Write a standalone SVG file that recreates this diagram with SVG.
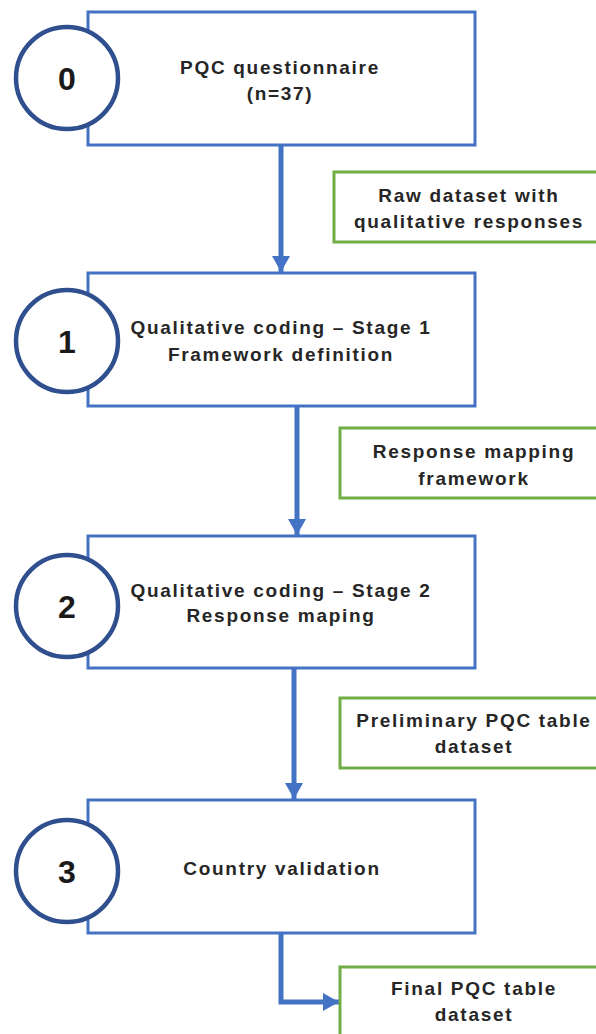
<svg xmlns="http://www.w3.org/2000/svg" width="596" height="1034" viewBox="0 0 596 1034">
<defs>
<style>
.box{fill:#fff;stroke:#4472C4;stroke-width:3}
.out{fill:#fff;stroke:#70AD47;stroke-width:3}
.num{fill:#fff;stroke:#2F4F8F;stroke-width:4.5}
.t{font-family:"Liberation Sans",Arial,sans-serif;font-weight:bold;font-size:19px;letter-spacing:1.7px;fill:#262626;text-anchor:middle}
.n{font-family:"Liberation Sans",Arial,sans-serif;font-weight:bold;font-size:32px;fill:#1a1a1a;text-anchor:middle}
.c{fill:none;stroke:#4472C4;stroke-width:5}
</style>
<marker id="ah" markerUnits="userSpaceOnUse" markerWidth="16" markerHeight="18" viewBox="0 0 16 18" refX="16" refY="9" orient="auto">
<path d="M0,0 L16,9 L0,18 Z" fill="#4472C4"/>
</marker>
</defs>
<g id="connectors">
<path class="c" d="M281,145 V272" marker-end="url(#ah)"/>
<path class="c" d="M297,406 V535" marker-end="url(#ah)"/>
<path class="c" d="M294,668 V799" marker-end="url(#ah)"/>
<path class="c" d="M281,933 V1002 H339" marker-end="url(#ah)"/>
</g>
<g id="step0">
<rect class="box" x="88" y="12" width="387" height="133"/>
<circle class="num" cx="67" cy="78" r="51"/>
<text class="n" x="67" y="90">0</text>
<text class="t" x="280" y="74">PQC questionnaire</text>
<text class="t" x="280" y="100">(n=37)</text>
</g>
<g id="out0">
<rect class="out" x="334" y="172" width="264" height="70"/>
<text class="t" x="469" y="202">Raw dataset with</text>
<text class="t" x="469" y="228">qualitative responses</text>
</g>
<g id="step1">
<rect class="box" x="88" y="273" width="387" height="133"/>
<circle class="num" cx="67" cy="341" r="51"/>
<text class="n" x="67" y="353">1</text>
<text class="t" x="281" y="334">Qualitative coding – Stage 1</text>
<text class="t" x="281" y="361">Framework definition</text>
</g>
<g id="out1">
<rect class="out" x="340" y="428" width="258" height="70"/>
<text class="t" x="474" y="458">Response mapping</text>
<text class="t" x="474" y="485">framework</text>
</g>
<g id="step2">
<rect class="box" x="88" y="536" width="387" height="132"/>
<circle class="num" cx="67" cy="606" r="51"/>
<text class="n" x="67" y="618">2</text>
<text class="t" x="281" y="597">Qualitative coding – Stage 2</text>
<text class="t" x="281" y="622">Response maping</text>
</g>
<g id="out2">
<rect class="out" x="340" y="698" width="258" height="70"/>
<text class="t" x="474" y="727">Preliminary PQC table</text>
<text class="t" x="474" y="753">dataset</text>
</g>
<g id="step3">
<rect class="box" x="88" y="800" width="387" height="133"/>
<circle class="num" cx="67" cy="871" r="51"/>
<text class="n" x="67" y="883">3</text>
<text class="t" x="282" y="875">Country validation</text>
</g>
<g id="out3">
<rect class="out" x="340" y="967" width="258" height="80"/>
<text class="t" x="474" y="995">Final PQC table</text>
<text class="t" x="474" y="1021">dataset</text>
</g>
</svg>
